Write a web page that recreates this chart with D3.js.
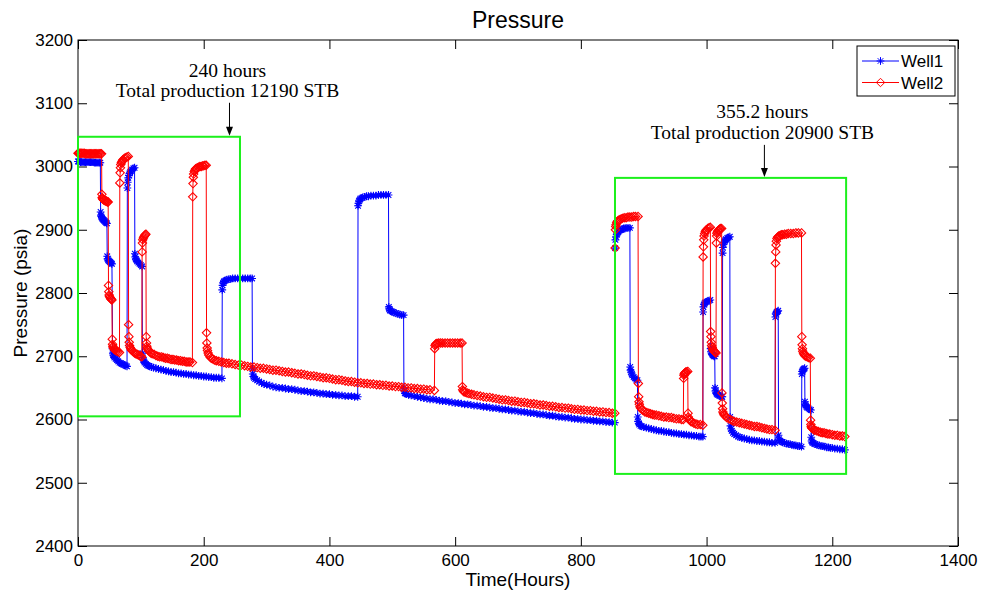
<!DOCTYPE html>
<html>
<head>
<meta charset="utf-8">
<script src="https://cdn.jsdelivr.net/npm/d3@7"></script>
<style>
  html, body { margin: 0; padding: 0; background: #fff; }
  svg { display: block; }
</style>
</head>
<body>
<svg id="chart" width="984" height="595"></svg>
<script>
// Simulated bottom-hole pressure of two wells: [time (hours), pressure (psia)]
const well1 = [
  [0,3008],[1,3008],[2,3008],[4,3007],[6,3007],[8,3007],[10,3007],[12,3007],[14,3007],[16,3007],[18,3007],[20,3007],[22,3007],[24,3007],[26,3006],[28,3006],[30,3006],[32,3006],[34,3006],[35.5,3006],
  [36,2928],[36.5,2923],[37,2921],[38,2919],[39,2917],[40,2916],[41,2915],[42,2914],[43,2913],[44,2912],[45,2911],[46,2910],
  [46.5,2858],[47,2854],[48,2852],[49,2851],[50,2850],[51,2849],[52,2848],[53,2847],[54,2846],
  [55,2712],[55.5,2705],[56,2702],[57,2700],[58,2698],[60,2696],[62,2694],[64,2692],[66,2690],[68,2689],[70,2688],[72,2687],[74,2686],[76,2685],[78,2684],
  [78.5,2966],[79,2975],[80,2982],[81,2986],[82,2989],[83,2991],[84,2993],[86,2995],[88,2997],[90,2998],
  [90.5,2862],[91,2857],[92,2854],[93,2852],[94,2850],[96,2848],[98,2846],[100,2844],[102,2842],
  [102.5,2705],[103,2698],[104,2694],[105,2692],[106,2690],[108,2688],[110,2686],[112,2685],[114,2684],[117,2683],
  [120,2682],[124,2681],[128,2680],[132,2679],[136,2678],[140,2677],[144,2676],[148,2675],[152,2675],[156,2674],
  [160,2673],[164,2673],[168,2672],[172,2672],[176,2671],[180,2671],[184,2670],[188,2670],[192,2669],[196,2669],
  [200,2668],[204,2668],[208,2667],[212,2667],[216,2666],[220,2666],[224,2666],[229,2665],
  [229.5,2805],[230,2812],[231,2816],[232,2818],[233,2819],[235,2820],[237,2821],[240,2822],[243,2822],[246,2823],[250,2823],[254,2823],[258,2823],[262,2823],[266,2823],[270,2823],[274,2823],[277,2823],
  [277.5,2680],[278,2672],[279,2668],[280,2666],[282,2664],[285,2662],[288,2660],[292,2658],[296,2656],
  [300,2655],[305,2654],[310,2652],[315,2651],[320,2650],[325,2650],[330,2649],[335,2648],[340,2648],[345,2647],
  [350,2646],[355,2645],[360,2645],[365,2644],[370,2643],[375,2643],[380,2642],[385,2641],[390,2641],[395,2640],
  [400,2640],[405,2639],[410,2639],[415,2638],[420,2638],[425,2637],[430,2637],[435,2637],[440,2636],[445,2636],
  [445.5,2938],[446,2942],[447,2945],[448,2947],[449,2949],[451,2950],[453,2951],[456,2952],[459,2953],[462,2953],[466,2954],[470,2954],[474,2954],[478,2955],[482,2955],[486,2955],[490,2955],[494,2955],
  [494.5,2778],[495,2775],[496,2773],[497,2772],[499,2771],[501,2770],[503,2769],[506,2768],[509,2767],[512,2766],[515,2765],[518,2765],
  [518.5,2650],[519,2645],[520,2642],[521,2641],[523,2640],[526,2639],[530,2638],
  [535,2637],[540,2636],[545,2635],[550,2634],[555,2633],[560,2632],[565,2632],[570,2631],[575,2630],[580,2629],
  [585,2629],[590,2628],[595,2627],[600,2626],[605,2626],[610,2625],[615,2624],[620,2624],[625,2623],[630,2622],
  [635,2622],[640,2621],[645,2620],[650,2620],[655,2619],[660,2618],[665,2618],[670,2617],[675,2616],[680,2616],
  [685,2615],[690,2614],[695,2614],[700,2613],[705,2612],[710,2612],[715,2611],[720,2610],[725,2610],[730,2609],
  [735,2608],[740,2608],[745,2607],[750,2606],[755,2606],[760,2605],[765,2604],[770,2604],[775,2603],[780,2603],
  [785,2602],[790,2601],[795,2601],[800,2600],[805,2600],[810,2599],[815,2599],[820,2598],[825,2598],[830,2597],
  [835,2597],[840,2596],[845,2596],[850,2595],[854,2595],
  [854.5,2871],[855,2884],[856,2889],[857,2892],[858,2894],[859,2896],[860,2897],[862,2899],[864,2900],[866,2901],[868,2902],[870,2902],[872,2903],[875,2903],[878,2903],
  [878.5,2683],[879,2678],[880,2675],[881,2672],[882,2670],[884,2667],[886,2665],[888,2663],[890,2662],
  [890.5,2604],[891,2597],[892,2594],[893,2592],[895,2590],[897,2589],[900,2588],[904,2587],[908,2586],[912,2585],
  [916,2584],[920,2583],[924,2582],[928,2582],[932,2581],[936,2580],[940,2580],[944,2579],[948,2578],[952,2578],
  [956,2577],[960,2577],[964,2576],[968,2576],[972,2575],[976,2575],[980,2574],[984,2574],[988,2573],[991,2573],[994,2573],
  [994.5,2770],[995,2778],[996,2782],[997,2784],[998,2785],[1000,2786],[1002,2787],[1004,2788],[1006,2789],
  [1006.5,2712],[1007,2707],[1008,2705],[1009,2703],[1010,2702],[1011,2701],[1012,2700],[1013,2700],
  [1013.5,2650],[1014,2645],[1015,2643],[1016,2641],[1017,2640],[1018,2639],[1020,2638],[1022,2637],[1024,2636],[1025,2636],
  [1025.5,2863],[1026,2872],[1027,2877],[1028,2880],[1029,2882],[1030,2884],[1031,2885],[1033,2887],[1035,2888],[1037,2889],
  [1037.5,2604],[1038,2590],[1039,2585],[1040,2582],[1042,2579],[1044,2577],[1047,2575],[1050,2573],[1053,2572],[1056,2571],
  [1060,2570],[1064,2569],[1068,2568],[1072,2567],[1076,2567],[1080,2566],[1084,2566],[1088,2565],[1092,2565],[1096,2564],
  [1100,2564],[1104,2563],[1109,2563],
  [1109.5,2762],[1110,2767],[1111,2769],[1112,2770],[1113,2771],[1114,2772],
  [1114.5,2575],[1115,2569],[1116,2567],[1117,2566],[1119,2565],[1121,2564],[1124,2563],[1127,2562],[1130,2561],[1133,2561],
  [1136,2560],[1139,2559],[1142,2559],[1145,2558],[1148,2558],[1151,2557],
  [1151.5,2672],[1152,2676],[1153,2678],[1154,2679],[1155,2680],[1156,2681],
  [1156.5,2628],[1157,2624],[1158,2622],[1159,2620],[1160,2619],[1162,2618],[1164,2616],[1166,2615],
  [1166.5,2572],[1167,2566],[1168,2564],[1169,2563],[1171,2562],[1173,2561],[1176,2560],[1179,2559],[1182,2558],[1185,2558],
  [1188,2557],[1191,2556],[1194,2556],[1197,2555],[1200,2555],[1204,2554],[1208,2554],[1212,2553],[1216,2553],[1220,2552]
];

const well2 = [
  [0,3021],[1,3021],[2,3021],[4,3021],[6,3021],[8,3021],[10,3021],[12,3020],[14,3020],[16,3020],[18,3020],[20,3020],[22,3020],[24,3020],[26,3020],[28,3020],[30,3020],[32,3020],[34,3020],[36,3020],[37.5,3020],
  [38,2956],[38.5,2951],[39,2949],[40,2948],[41,2947],[42,2947],[43,2946],[44,2946],[45,2945],[46,2945],[47,2944],[48,2944],
  [48.5,2812],[49,2802],[49.5,2797],[50,2795],[51,2793],[52,2791],[53,2790],[54,2789],
  [54.5,2727],[55,2719],[55.5,2716],[56,2714],[57,2712],[58,2711],[59,2710],[60,2709],[62,2708],[64,2707],[66,2706],
  [66.5,2974],[67,2990],[67.5,2998],[68,3003],[69,3006],[70,3008],[71,3010],[72,3011],[74,3013],[76,3014],[78,3015],[80,3016],
  [80.5,2750],[81,2731],[81.5,2722],[82,2717],[83,2714],[84,2712],[85,2710],[86,2709],[88,2707],[90,2705],[92,2704],[94,2703],[96,2702],[98,2701],[100,2700],[101.5,2699],
  [102,2865],[102.5,2879],[103,2884],[104,2887],[105,2889],[106,2891],[107,2892],[108,2893],
  [108.5,2731],[109,2721],[109.5,2716],[110,2713],[111,2711],[112,2709],[114,2707],[116,2705],[118,2704],[121,2703],
  [124,2701],[127,2700],[130,2699],[133,2699],[136,2698],[139,2697],[142,2697],[145,2696],[148,2695],[151,2695],
  [154,2694],[157,2694],[160,2693],[163,2693],[166,2692],[169,2692],[172,2691],[175,2691],[178,2691],[182,2690],
  [182.5,2952],[183,2973],[183.5,2983],[184,2988],[185,2992],[186,2994],[187,2996],[188,2997],[190,2998],[192,2999],[194,3000],[196,3000],[198,3001],[200,3001],[202,3002],[204,3002],
  [204.5,2737],[205,2721],[205.5,2713],[206,2709],[207,2705],[208,2702],[210,2699],[212,2697],[214,2696],[217,2694],
  [220,2693],[224,2692],[228,2691],[232,2690],[236,2689],[240,2689],[245,2688],[250,2687],[255,2686],[260,2686],
  [265,2685],[270,2684],[275,2683],[280,2683],[285,2682],[290,2681],[295,2681],[300,2680],[305,2679],[310,2678],
  [315,2678],[320,2677],[325,2676],[330,2675],[335,2675],[340,2674],[345,2673],[350,2672],[355,2672],[360,2671],
  [365,2670],[370,2669],[375,2669],[380,2668],[385,2667],[390,2666],[395,2666],[400,2665],[405,2664],[410,2663],
  [415,2663],[420,2662],[425,2661],[430,2660],[435,2660],[440,2659],[445,2658],[450,2658],[455,2657],[460,2657],
  [465,2656],[470,2656],[475,2655],[480,2655],[485,2654],[490,2654],[495,2653],[500,2653],[505,2652],[510,2652],
  [515,2651],[520,2651],[525,2650],[530,2650],[535,2649],[540,2649],[545,2648],[550,2648],[555,2647],[560,2647],[567,2646],
  [567.5,2712],[568,2717],[569,2719],[570,2720],[572,2720],[574,2721],[577,2721],[580,2721],[584,2721],[588,2721],[592,2721],[596,2721],[600,2721],[604,2721],[608,2721],[611,2721],
  [611.5,2652],[612,2647],[613,2645],[614,2644],[616,2643],[619,2642],[622,2641],[626,2640],[630,2639],[635,2638],
  [640,2637],[645,2636],[650,2635],[655,2635],[660,2634],[665,2633],[670,2632],[675,2631],[680,2631],[685,2630],
  [690,2629],[695,2629],[700,2628],[705,2627],[710,2627],[715,2626],[720,2625],[725,2625],[730,2624],[735,2623],
  [740,2623],[745,2622],[750,2621],[755,2621],[760,2620],[765,2619],[770,2619],[775,2618],[780,2618],[785,2617],
  [790,2616],[795,2616],[800,2615],[805,2615],[810,2614],[815,2614],[820,2613],[825,2613],[830,2612],[835,2612],
  [840,2611],[845,2611],[850,2610],[854,2610],
  [854.5,2871],[855,2900],[855.5,2905],[856,2908],[857,2911],[858,2913],[859,2914],[860,2915],[862,2916],[864,2917],[866,2918],[869,2919],[872,2919],[875,2920],[878,2920],[881,2920],[884,2921],[887,2921],[891,2921],
  [891.5,2657],[892,2636],[892.5,2628],[893,2624],[894,2620],[895,2618],[897,2616],[899,2614],[902,2612],[905,2611],
  [908,2610],[911,2609],[914,2608],[917,2607],[920,2607],[924,2606],[928,2605],[932,2604],[936,2604],[940,2603],
  [944,2603],[948,2602],[952,2601],[956,2601],[960,2600],[963,2600],
  [963.5,2665],[964,2670],[964.5,2672],[965,2673],[966,2674],[967,2675],[968,2675],[970,2676],
  [970.5,2610],[971,2604],[972,2601],[973,2599],[975,2597],[977,2596],[980,2594],[983,2593],[986,2592],[990,2592],[994,2591],
  [994.5,2857],[995,2873],[995.5,2884],[996,2890],[997,2894],[998,2897],[999,2899],[1000,2900],[1002,2902],[1004,2903],[1006,2904],
  [1006.5,2739],[1007,2731],[1007.5,2722],[1008,2717],[1009,2714],[1010,2711],[1011,2709],[1012,2708],[1013,2707],[1014,2706],[1015,2705],
  [1015.5,2879],[1016,2890],[1016.5,2894],[1017,2896],[1018,2898],[1019,2899],[1020,2900],[1021,2901],[1022,2902],[1024,2902],
  [1024.5,2642],[1025,2626],[1025.5,2617],[1026,2612],[1027,2609],[1028,2607],[1030,2605],[1032,2603],[1035,2601],[1038,2600],
  [1041,2598],[1044,2597],[1048,2596],[1052,2595],[1056,2594],[1060,2593],[1064,2592],[1068,2591],[1072,2590],[1076,2589],
  [1080,2589],[1084,2588],[1088,2587],[1092,2586],[1096,2585],[1100,2584],[1104,2584],[1109,2583],
  [1109.5,2847],[1110,2865],[1110.5,2876],[1111,2882],[1112,2886],[1113,2888],[1114,2889],[1115,2890],[1117,2891],[1119,2892],
  [1121,2892],[1124,2893],[1127,2893],[1130,2894],[1134,2894],[1138,2894],[1142,2895],[1146,2895],[1151,2895],
  [1151.5,2731],[1152,2718],[1152.5,2712],[1153,2708],[1154,2705],[1155,2703],[1156,2701],[1158,2700],[1160,2699],[1162,2698],[1165,2697],
  [1165.5,2599],[1166,2592],[1166.5,2589],[1167,2587],[1168,2586],[1170,2584],[1172,2583],[1175,2582],[1178,2581],[1181,2580],
  [1184,2579],[1187,2579],[1190,2578],[1193,2577],[1196,2577],[1200,2576],[1204,2575],[1208,2575],[1212,2574],[1216,2574],[1220,2573]
];

const seriesNames = ["Well1", "Well2"];
const seriesColors = ["#0000ff", "#ff0000"];

const xTicks = [0, 200, 400, 600, 800, 1000, 1200, 1400];
const yTicks = [2400, 2500, 2600, 2700, 2800, 2900, 3000, 3100, 3200];

// Production periods outlined with boxes: [hourStart, hourEnd, psiaLow, psiaHigh]
const periodBoxes = [
  [0, 257.7, 2605, 3047],
  [854.3, 1222, 2514, 2982]
];
// Arrow callouts: hour position, arrow tip (psia), text lines
const calloutHours = [241, 1092];
const calloutTips = [3047, 2982];
const calloutLines = [
  ["240 hours", "Total production 12190 STB"],
  ["355.2 hours", "Total production 20900 STB"]
];

const svg = d3.select("#chart");
const margin = { left: 78, right: 958, top: 40, bottom: 546 };

const x = d3.scaleLinear().domain([0, 1400]).range([margin.left, margin.right]);
const y = d3.scaleLinear().domain([2400, 3200]).range([margin.bottom, margin.top]);

const sans = "'Liberation Sans', Arial, Helvetica, sans-serif";
const serif = "'Liberation Serif', 'Times New Roman', Times, serif";

// Axes: ticks point inward on all four sides
const tickLen = 9;
const gx = svg.append("g").attr("transform", `translate(0,${margin.bottom})`)
  .call(d3.axisBottom(x).tickValues(xTicks).tickSize(-tickLen).tickPadding(8).tickFormat(d3.format("d")));
const gxTop = svg.append("g").attr("transform", `translate(0,${margin.top})`)
  .call(d3.axisTop(x).tickValues(xTicks).tickSize(-tickLen).tickFormat(""));
const gy = svg.append("g").attr("transform", `translate(${margin.left},0)`)
  .call(d3.axisLeft(y).tickValues(yTicks).tickSize(-tickLen).tickPadding(5).tickFormat(d3.format("d")));
const gyRight = svg.append("g").attr("transform", `translate(${margin.right},0)`)
  .call(d3.axisRight(y).tickValues(yTicks).tickSize(-tickLen).tickFormat(""));

[gx, gxTop, gy, gyRight].forEach(g => {
  g.select(".domain").remove();
  g.selectAll(".tick line").attr("stroke", "#000").attr("stroke-width", 1);
  g.selectAll("text").attr("font-family", sans).attr("font-size", 17).attr("fill", "#000");
});

svg.append("rect")
  .attr("x", margin.left).attr("y", margin.top)
  .attr("width", margin.right - margin.left).attr("height", margin.bottom - margin.top)
  .attr("fill", "none").attr("stroke", "#000").attr("stroke-width", 1);

// Series
const series = [well1, well2].map((points, i) => ({
  name: seriesNames[i],
  color: seriesColors[i],
  points
}));

const r = 3.9;
const asterisk = (() => {
  const a = r * 0.72;
  return `M${-r},0L${r},0M0,${-r}L0,${r}M${-a},${-a}L${a},${a}M${-a},${a}L${a},${-a}`;
})();
const dr = 4.2;
const diamond = `M0,${-dr}L${dr},0L0,${dr}L${-dr},0Z`;
const markerPaths = [asterisk, diamond];

const line = d3.line().x(d => x(d[0])).y(d => y(d[1]));

const plot = svg.append("g");
series.forEach((s, i) => {
  const g = plot.append("g");
  g.append("path")
    .datum(s.points)
    .attr("d", line)
    .attr("fill", "none")
    .attr("stroke", s.color)
    .attr("stroke-width", 1);
  g.selectAll("path.mk")
    .data(s.points)
    .join("path")
    .attr("class", "mk")
    .attr("d", markerPaths[i])
    .attr("transform", d => `translate(${x(d[0])},${y(d[1])})`)
    .attr("fill", "none")
    .attr("stroke", s.color)
    .attr("stroke-width", 1.1);
});

// Period boxes
svg.append("g").selectAll("rect")
  .data(periodBoxes)
  .join("rect")
  .attr("x", d => x(d[0]))
  .attr("y", d => y(d[3]))
  .attr("width", d => x(d[1]) - x(d[0]))
  .attr("height", d => y(d[2]) - y(d[3]))
  .attr("fill", "none")
  .attr("stroke", "#1cf01c")
  .attr("stroke-width", 2);

// Callouts with arrows
const callouts = svg.append("g");
calloutHours.forEach((h, i) => {
  const cx = x(h);
  const tipY = y(calloutTips[i]) - 1;
  const lineGap = i === 0 ? 20 : 21;
  const firstBaseline = tipY - 59;
  calloutLines[i].forEach((txt, k) => {
    callouts.append("text")
      .attr("x", cx - 2)
      .attr("y", firstBaseline + k * lineGap)
      .attr("text-anchor", "middle")
      .attr("font-family", serif)
      .attr("font-size", 19.5)
      .attr("fill", "#000")
      .text(txt);
  });
  const topY = firstBaseline + lineGap + 6;
  callouts.append("line")
    .attr("x1", cx).attr("x2", cx)
    .attr("y1", topY).attr("y2", tipY - 6)
    .attr("stroke", "#000").attr("stroke-width", 1);
  callouts.append("path")
    .attr("d", `M${cx - 3.5},${tipY - 9}L${cx + 3.5},${tipY - 9}L${cx},${tipY}Z`)
    .attr("fill", "#000");
});

// Titles
svg.append("text")
  .attr("x", (margin.left + margin.right) / 2).attr("y", 28)
  .attr("text-anchor", "middle")
  .attr("font-family", sans).attr("font-size", 23)
  .text("Pressure");
svg.append("text")
  .attr("x", (margin.left + margin.right) / 2).attr("y", 586)
  .attr("text-anchor", "middle")
  .attr("font-family", sans).attr("font-size", 19)
  .text("Time(Hours)");
svg.append("text")
  .attr("transform", `translate(27,${(margin.top + margin.bottom) / 2}) rotate(-90)`)
  .attr("text-anchor", "middle")
  .attr("font-family", sans).attr("font-size", 19)
  .text("Pressure (psia)");

// Legend
const legend = svg.append("g");
legend.append("rect")
  .attr("x", 857).attr("y", 46).attr("width", 98).attr("height", 50)
  .attr("fill", "#fff").attr("stroke", "#000").attr("stroke-width", 1);
series.forEach((s, i) => {
  const ly = 61 + i * 21.5;
  legend.append("line")
    .attr("x1", 862).attr("x2", 899).attr("y1", ly).attr("y2", ly)
    .attr("stroke", s.color).attr("stroke-width", 1);
  legend.append("path")
    .attr("d", markerPaths[i])
    .attr("transform", `translate(880.5,${ly})`)
    .attr("fill", "none").attr("stroke", s.color).attr("stroke-width", 1);
  legend.append("text")
    .attr("x", 901).attr("y", ly + 6)
    .attr("font-family", sans).attr("font-size", 17)
    .text(s.name);
});
</script>
</body>
</html>
